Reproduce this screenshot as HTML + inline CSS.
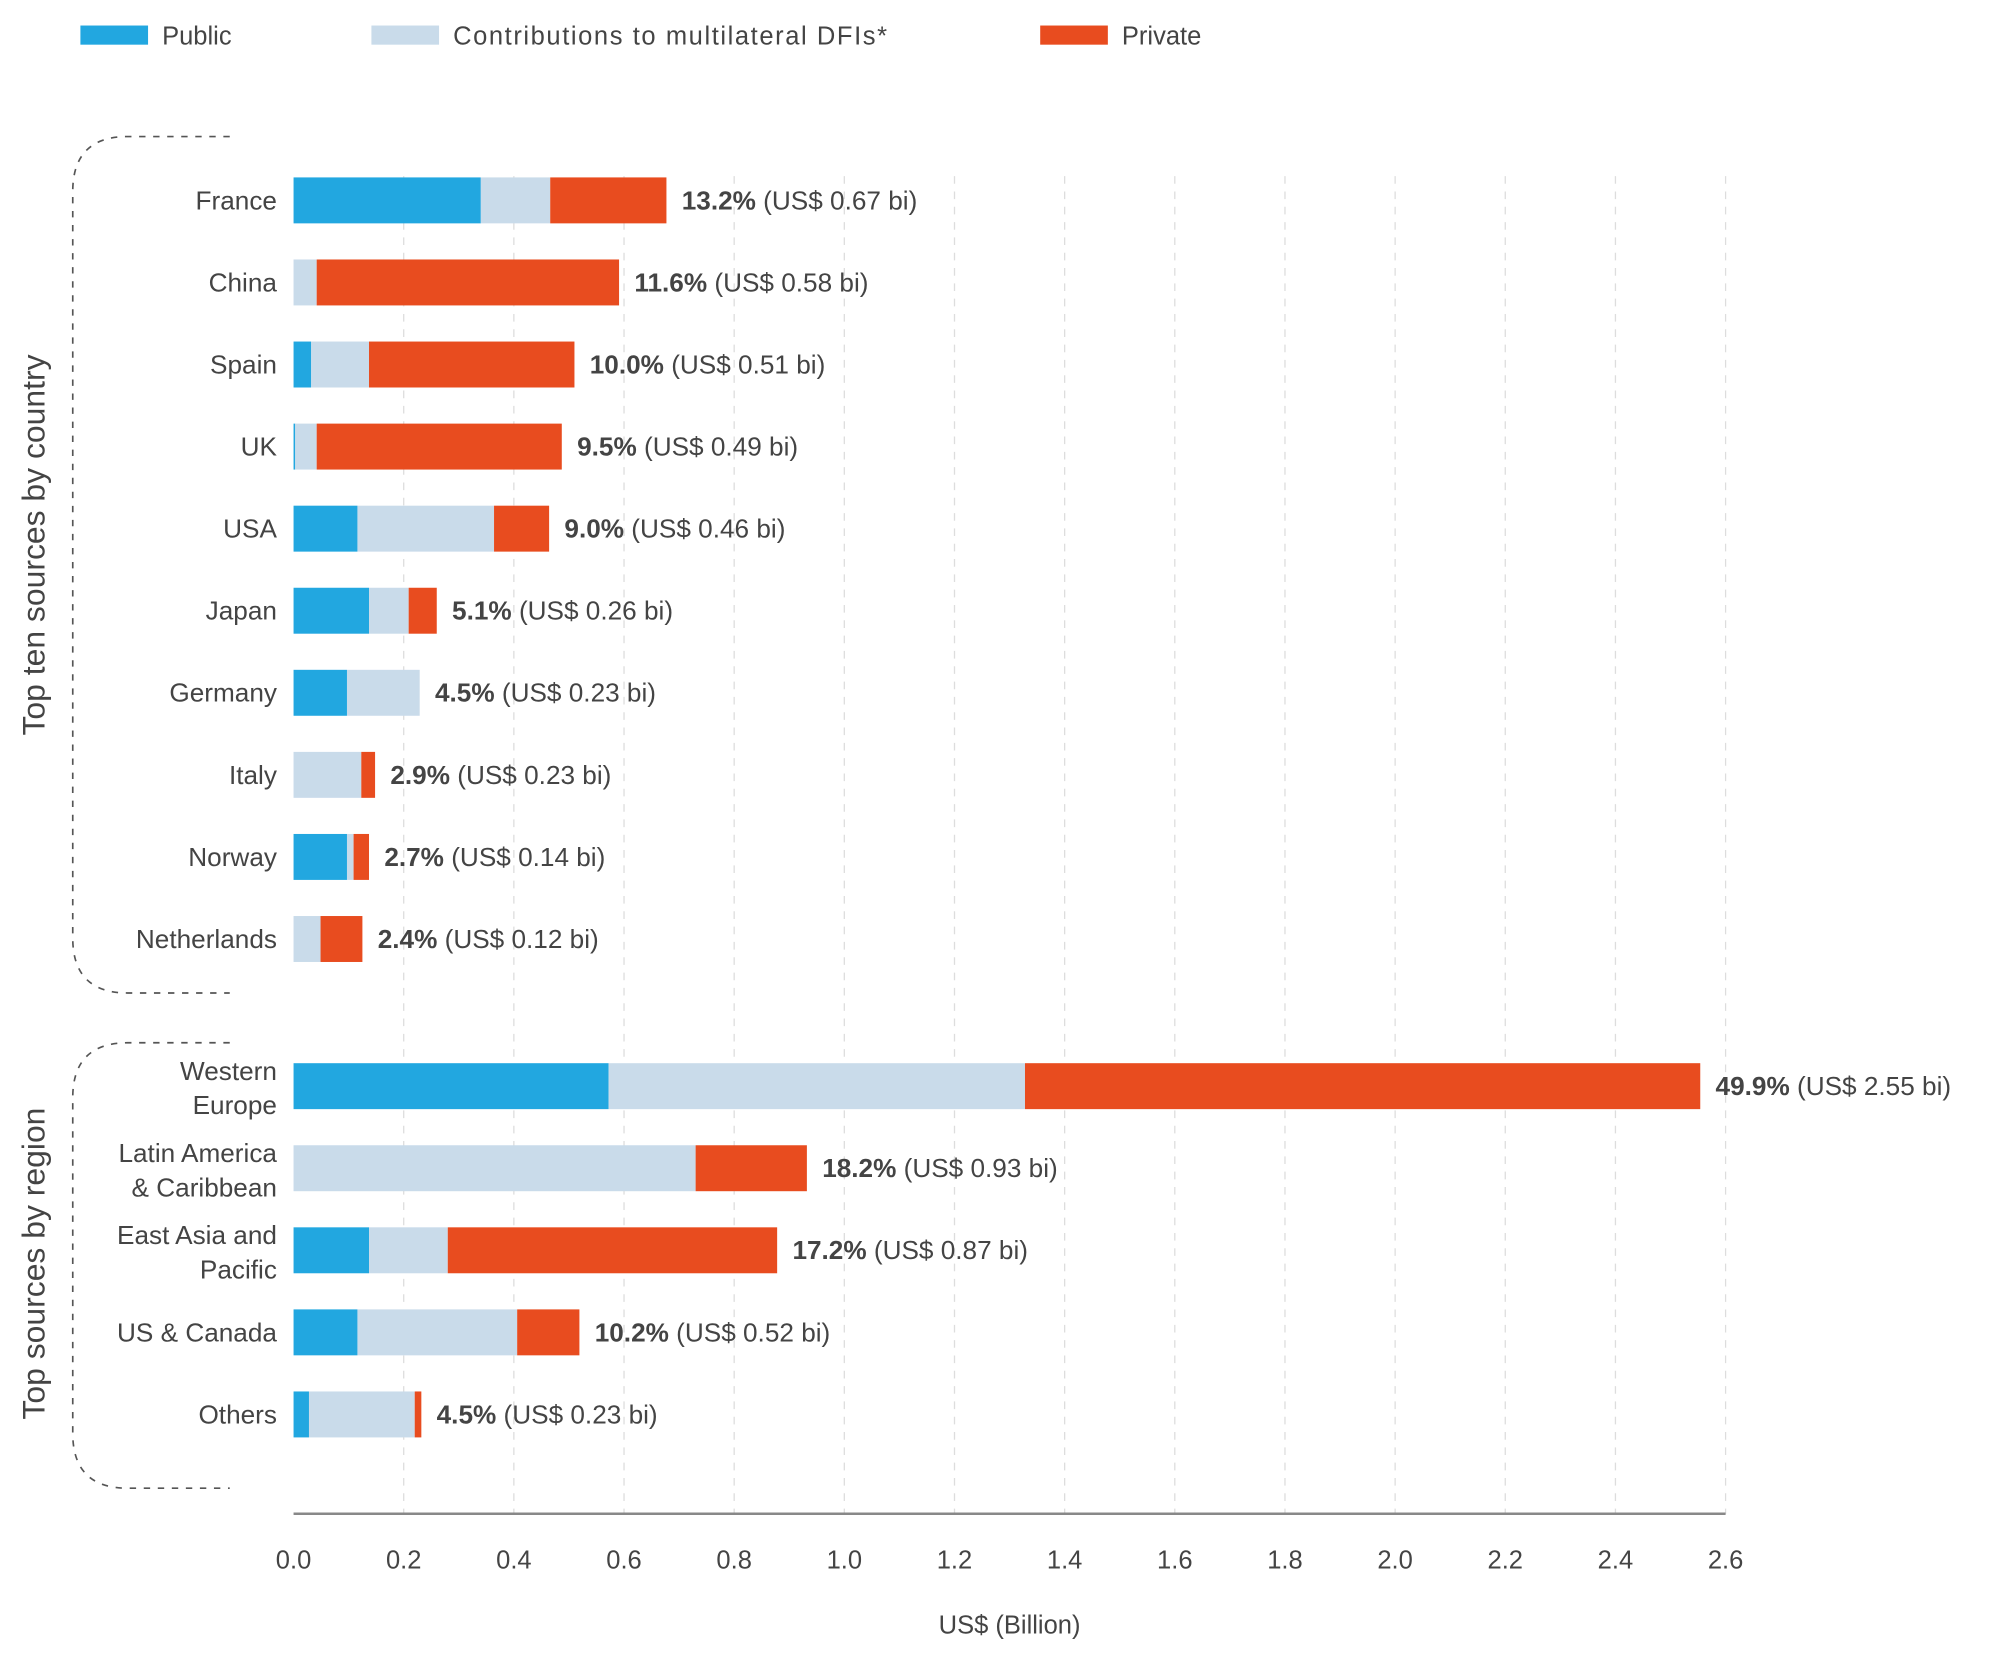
<!DOCTYPE html>
<html><head><meta charset="utf-8"><style>
html,body{margin:0;padding:0;background:#fff;}
svg{display:block;font-family:"Liberation Sans",sans-serif;}
</style></head><body>
<svg id="chart" width="2000" height="1666" viewBox="0 0 1567 1305.3" preserveAspectRatio="none" xmlns="http://www.w3.org/2000/svg">
<g id="legend">
  <rect x="63" y="20" width="53" height="15" fill="#22a7e0"/>
  <text x="127" y="35" font-size="20" fill="#444">Public</text>
  <rect x="291" y="20" width="53" height="15" fill="#c9dbea"/>
  <text x="355" y="35" font-size="20" fill="#444" textLength="340">Contributions to multilateral DFIs*</text>
  <rect x="815" y="20" width="53" height="15" fill="#e84c1f"/>
  <text x="879" y="35" font-size="20" fill="#444">Private</text>
</g>
<g id="grid"></g>
<g id="brackets">
  <path d="M180,107 H100 Q57,107 57,150 V735 Q57,778 100,778 H180" fill="none" stroke="#555" stroke-width="1.3" stroke-dasharray="5,6"/>
  <path d="M180,817 H100 Q57,817 57,860 V1123 Q57,1166 100,1166 H180" fill="none" stroke="#555" stroke-width="1.3" stroke-dasharray="5,6"/>
  <text transform="translate(35,427) rotate(-90)" text-anchor="middle" font-size="25" fill="#444">Top ten sources by country</text>
  <text transform="translate(35,990) rotate(-90)" text-anchor="middle" font-size="25" fill="#444">Top sources by region</text>
</g>
<g id="bars"></g>
<g id="axis"></g>
<text x="791" y="1280" text-anchor="middle" font-size="20" fill="#444">US$ (Billion)</text>
</svg>
<script>
const categories = [["France"],["China"],["Spain"],["UK"],["USA"],["Japan"],["Germany"],["Italy"],["Norway"],["Netherlands"],["Western","Europe"],["Latin America","& Caribbean"],["East Asia and","Pacific"],["US & Canada"],["Others"]];
const publicVals = [0.34,0,0.032,0.003,0.116,0.137,0.097,0,0.097,0,0.572,0,0.137,0.116,0.028];
const contribVals = [0.126,0.042,0.105,0.039,0.248,0.072,0.132,0.123,0.012,0.049,0.756,0.73,0.143,0.29,0.192];
const privateVals = [0.211,0.549,0.373,0.445,0.1,0.051,0,0.025,0.028,0.076,1.226,0.202,0.598,0.113,0.012];
const pctLabels = ["13.2%","11.6%","10.0%","9.5%","9.0%","5.1%","4.5%","2.9%","2.7%","2.4%","49.9%","18.2%","17.2%","10.2%","4.5%"];
const amtLabels = ["(US$ 0.67 bi)","(US$ 0.58 bi)","(US$ 0.51 bi)","(US$ 0.49 bi)","(US$ 0.46 bi)","(US$ 0.26 bi)","(US$ 0.23 bi)","(US$ 0.23 bi)","(US$ 0.14 bi)","(US$ 0.12 bi)","(US$ 2.55 bi)","(US$ 0.93 bi)","(US$ 0.87 bi)","(US$ 0.52 bi)","(US$ 0.23 bi)"];
const ticks = [0,0.2,0.4,0.6,0.8,1.0,1.2,1.4,1.6,1.8,2.0,2.2,2.4,2.6];
const tickLabels = ["0.0","0.2","0.4","0.6","0.8","1.0","1.2","1.4","1.6","1.8","2.0","2.2","2.4","2.6"];

const NS="http://www.w3.org/2000/svg";
const X0=230, X1=1352, XMAX=2.6;
function xs(v){return X0+(v/XMAX)*(X1-X0);}
function yc(i){return i<10 ? 157+i*64.3 : 851+(i-10)*64.3;}
const BH=36;
function mk(tag,attrs,parent){const e=document.createElementNS(NS,tag);for(const k in attrs)e.setAttribute(k,attrs[k]);parent.appendChild(e);return e;}

const grid=document.getElementById('grid'), axis=document.getElementById('axis'), bars=document.getElementById('bars');
ticks.forEach((t,i)=>{
  if(t>0){const l=mk('line',{x1:xs(t),x2:xs(t),y1:138,y2:1186,stroke:'#ddd','stroke-width':1,'stroke-dasharray':'6,6'},grid);
  
  }
  const tx=mk('text',{x:xs(t),y:1229,'text-anchor':'middle','font-size':20,fill:'#444'},axis);
  tx.textContent=tickLabels[i];
  
  
});
const al=mk('line',{x1:X0,x2:X1,y1:1186,y2:1186,stroke:'#888','stroke-width':2},axis);



categories.forEach((c,i)=>{
  const y=yc(i);
  const segs=[[publicVals[i],'#22a7e0','bar-public'],[contribVals[i],'#c9dbea','bar-contrib'],[privateVals[i],'#e84c1f','bar-private']];
  let acc=0;
  segs.forEach(s=>{
    if(s[0]>0){const r=mk('rect',{x:xs(acc),y:y-BH/2,width:xs(acc+s[0])-xs(acc),height:BH,fill:s[1]},bars);
    
    }
    acc+=s[0];
  });
  const lab=mk('text',{x:xs(acc)+12,y:y+7,'font-size':20.5,fill:'#444'},bars);
  
  
  const b=mk('tspan',{'font-weight':'bold'},lab); b.textContent=pctLabels[i];
  const n=mk('tspan',{},lab); n.textContent=' '+amtLabels[i];
  const cl=mk('text',{x:217,'text-anchor':'end','font-size':20.5,fill:'#444'},bars);
  
  
  if(c.length===1){cl.setAttribute('y',y+7);cl.textContent=c[0];}
  else{c.forEach((t,j)=>{const sp=mk('tspan',{x:217,y:y-5+j*27},cl);sp.textContent=t;});}
});
</script>
</body></html>
